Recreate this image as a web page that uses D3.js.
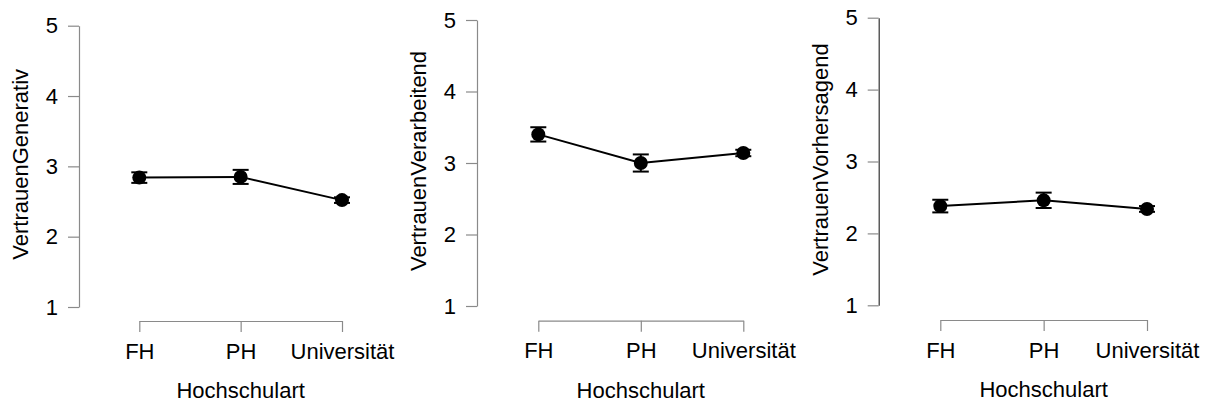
<!DOCTYPE html>
<html>
<head>
<meta charset="utf-8">
<script src="https://cdn.jsdelivr.net/npm/d3@7"></script>
<style>
  html, body { margin: 0; padding: 0; background: #fff; }
  svg { display: block; }
  text { font-family: "Liberation Sans", Arial, sans-serif; fill: #000; }
</style>
</head>
<body>
<svg id="chart" width="1209" height="403"></svg>
<script>
// ---- data ----
const categories = ["FH", "PH", "Universität"];
const yTicks = [1, 2, 3, 4, 5];
const xTitle = "Hochschulart";
const yTitles = ["VertrauenGenerativ", "VertrauenVerarbeitend", "VertrauenVorhersagend"];
const meansGenerativ = [2.84, 2.85, 2.52];
const errGenerativ = [0.075, 0.10, 0.04];
const meansVerarbeitend = [3.40, 3.00, 3.14];
const errVerarbeitend = [0.10, 0.12, 0.045];
const meansVorhersagend = [2.38, 2.46, 2.34];
const errVorhersagend = [0.088, 0.107, 0.04];

// ---- layout (per panel) ----
const panels = [
  { title: yTitles[0], means: meansGenerativ, errs: errGenerativ,
    ax: 79, yTop: 25.7, yBot: 307, xAxisY: 321, xL: 139.3, xR: 342, yAxisColor: "#8a8a8a" },
  { title: yTitles[1], means: meansVerarbeitend, errs: errVerarbeitend,
    ax: 477, yTop: 20, yBot: 306, xAxisY: 320.7, xL: 538.3, xR: 743.3, yAxisColor: "#8a8a8a" },
  { title: yTitles[2], means: meansVorhersagend, errs: errVorhersagend,
    ax: 878.7, yTop: 17.7, yBot: 305.3, xAxisY: 320, xL: 940.3, xR: 1147, yAxisColor: "#333" }
];

const svg = d3.select("#chart");
const fontSize = 22;
const ff = "'Liberation Sans', Arial, sans-serif";

panels.forEach(p => {
  const g = svg.append("g");
  const y = d3.scaleLinear().domain([1, 5]).range([p.yBot, p.yTop]);
  const x = d3.scalePoint().domain(categories).range([p.xL, p.xR]);

  // y axis
  const ya = g.append("g")
    .attr("transform", `translate(${p.ax},0)`)
    .call(d3.axisLeft(y).tickValues(yTicks).tickFormat(d3.format("d"))
      .tickSize(11).tickSizeOuter(0).tickPadding(10));
  ya.select(".domain").attr("stroke", p.yAxisColor).attr("stroke-width", 1.2);
  ya.selectAll(".tick line").attr("stroke", "#8a8a8a").attr("stroke-width", 1.2);
  ya.selectAll(".tick text").attr("font-size", fontSize).attr("fill", "#000")
    .style("font-family", ff);

  // x axis
  const xa = g.append("g")
    .attr("transform", `translate(0,${p.xAxisY})`)
    .call(d3.axisBottom(x).tickSize(11).tickSizeOuter(0).tickPadding(11));
  xa.select(".domain").attr("stroke", "#8a8a8a").attr("stroke-width", 1.2);
  xa.selectAll(".tick line").attr("stroke", "#8a8a8a").attr("stroke-width", 1.2);
  xa.selectAll(".tick text").attr("font-size", fontSize).attr("fill", "#000")
    .style("font-family", ff);

  // axis titles
  g.append("text")
    .attr("x", x(categories[1]))
    .attr("y", p.xAxisY + 77)
    .attr("text-anchor", "middle")
    .attr("font-size", fontSize)
    .text(xTitle);
  g.append("text")
    .attr("transform", `translate(${p.ax - 51},${(p.yTop + p.yBot) / 2 - 2}) rotate(-90)`)
    .attr("text-anchor", "middle")
    .attr("font-size", fontSize)
    .text(p.title);

  const data = categories.map((c, i) => ({ c, m: p.means[i], e: p.errs[i] }));

  // line
  g.append("path")
    .datum(data)
    .attr("fill", "none")
    .attr("stroke", "#000")
    .attr("stroke-width", 2)
    .attr("d", d3.line().x(d => x(d.c)).y(d => y(d.m)));

  // error bars
  const eb = g.selectAll(".eb").data(data).enter().append("g");
  eb.append("line")
    .attr("x1", d => x(d.c)).attr("x2", d => x(d.c))
    .attr("y1", d => y(d.m - d.e)).attr("y2", d => y(d.m + d.e))
    .attr("stroke", "#000").attr("stroke-width", 2);
  eb.append("line")
    .attr("x1", d => x(d.c) - 8).attr("x2", d => x(d.c) + 8)
    .attr("y1", d => y(d.m + d.e)).attr("y2", d => y(d.m + d.e))
    .attr("stroke", "#000").attr("stroke-width", 2);
  eb.append("line")
    .attr("x1", d => x(d.c) - 8).attr("x2", d => x(d.c) + 8)
    .attr("y1", d => y(d.m - d.e)).attr("y2", d => y(d.m - d.e))
    .attr("stroke", "#000").attr("stroke-width", 2);

  // points
  g.selectAll(".pt").data(data).enter().append("circle")
    .attr("cx", d => x(d.c)).attr("cy", d => y(d.m))
    .attr("r", 7).attr("fill", "#000");
});
</script>
</body>
</html>
